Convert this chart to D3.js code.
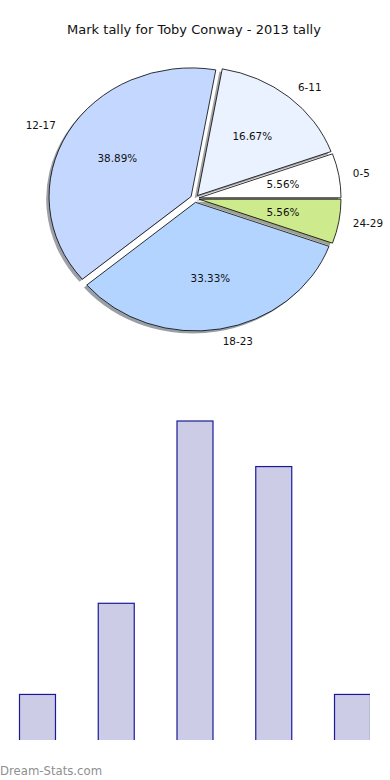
<!DOCTYPE html>
<html>
<head>
<meta charset="utf-8">
<script src="https://cdn.jsdelivr.net/npm/d3@7"></script>
<style>
  body { margin: 0; background: #fff; }
  svg { display: block; font-family: "DejaVu Sans", sans-serif; }
</style>
</head>
<body>
<div id="chart"></div>
<script>
const title = "Mark tally for Toby Conway - 2013 tally";
const categories = ["0-5", "6-11", "12-17", "18-23", "24-29"];
const tallies = [1, 3, 7, 6, 1];
const sliceColors = ["#ffffff", "#eaf1ff", "#c4d8ff", "#b3d4ff", "#cdea8c"];

const width = 390, height = 780;

const svg = d3.select("div#chart")
  .append("svg")
  .attr("width", width)
  .attr("height", height)
  .attr("viewBox", [0, 0, width, height]);

svg.append("text")
  .attr("x", 194)
  .attr("y", 34)
  .attr("text-anchor", "middle")
  .attr("font-size", 13)
  .attr("fill", "#111")
  .text(title);

// pie (stretched like an un-equal-aspect matplotlib pie)
const cx = 194.8, cy = 198.5, rx = 142, ry = 128.6;
const explode = 0.03;
const total = d3.sum(tallies);

const pie = d3.pie()
  .sort(null)
  .startAngle(Math.PI / 2)
  .endAngle(Math.PI / 2 - 2 * Math.PI);

const arcs = pie(tallies).map((d, i) => {
  const mid = (d.startAngle + d.endAngle) / 2;
  const ux = Math.sin(mid), uy = -Math.cos(mid);
  return {
    ...d,
    i,
    ux, uy,
    ox: cx + explode * rx * ux,
    oy: cy + explode * ry * uy
  };
});

const arc = d3.arc().innerRadius(0).outerRadius(1);

const pieG = svg.append("g");

pieG.selectAll("path.shadow")
  .data(arcs)
  .join("path")
  .attr("class", "shadow")
  .attr("transform", d => `translate(${d.ox - 0.02 * rx},${d.oy + 0.02 * ry}) scale(${rx},${ry})`)
  .attr("d", arc)
  .attr("fill", d => {
    const c = d3.rgb(sliceColors[d.i]);
    return d3.rgb(c.r * 0.3, c.g * 0.3, c.b * 0.3);
  })
  .attr("fill-opacity", 0.5);

pieG.selectAll("path.slice")
  .data(arcs)
  .join("path")
  .attr("class", "slice")
  .attr("transform", d => `translate(${d.ox},${d.oy}) scale(${rx},${ry})`)
  .attr("d", arc)
  .attr("fill", d => sliceColors[d.i])
  .attr("stroke", "#000")
  .attr("stroke-width", 0.8)
  .attr("stroke-linejoin", "round")
  .attr("vector-effect", "non-scaling-stroke");

pieG.selectAll("text.pct")
  .data(arcs)
  .join("text")
  .attr("class", "pct")
  .attr("x", d => d.ox + 0.6 * rx * d.ux)
  .attr("y", d => d.oy + 0.6 * ry * d.uy)
  .attr("dy", "0.35em")
  .attr("text-anchor", "middle")
  .attr("font-size", 10.4)
  .attr("fill", "#111")
  .text(d => (100 * d.value / total).toFixed(2) + "%");

pieG.selectAll("text.lbl")
  .data(arcs)
  .join("text")
  .attr("class", "lbl")
  .attr("x", d => d.ox + 1.1 * rx * d.ux)
  .attr("y", d => d.oy + 1.1 * ry * d.uy)
  .attr("dy", "0.35em")
  .attr("text-anchor", d => d.ux >= 0 ? "start" : "end")
  .attr("font-size", 10.4)
  .attr("fill", "#111")
  .text(d => categories[d.i]);

// bar chart
const x = d3.scaleBand()
  .domain(categories)
  .range([0, 390])
  .paddingInner(0.543)
  .paddingOuter(0.2476);

const y = d3.scaleLinear()
  .domain([0, d3.max(tallies)])
  .range([740, 421]);

svg.append("clipPath")
  .attr("id", "barclip")
  .append("rect")
  .attr("x", 0)
  .attr("y", 380)
  .attr("width", 370)
  .attr("height", 360);

svg.append("g")
  .attr("clip-path", "url(#barclip)")
  .selectAll("rect")
  .data(categories)
  .join("rect")
  .attr("x", d => x(d))
  .attr("y", (d, i) => y(tallies[i]))
  .attr("width", x.bandwidth())
  .attr("height", (d, i) => y(0) - y(tallies[i]) + 2)
  .attr("fill", "#ccccE6")
  .attr("stroke", "#1a1a99")
  .attr("stroke-width", 1.2);

svg.append("text")
  .attr("x", 0)
  .attr("y", 775)
  .attr("font-size", 11.7)
  .attr("fill", "#8f8f8f")
  .text("Dream-Stats.com");
</script>
</body>
</html>
